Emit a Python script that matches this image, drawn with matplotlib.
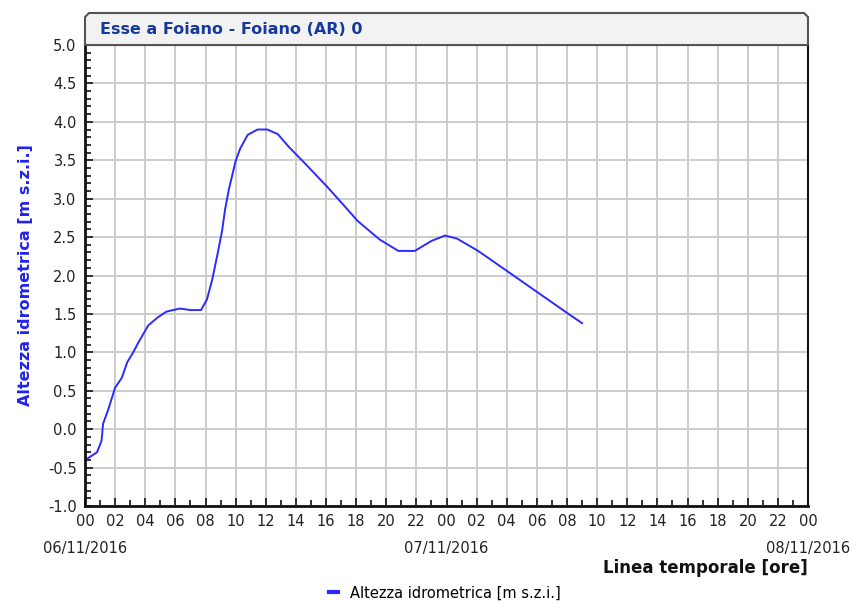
import matplotlib
matplotlib.use("Agg")
import matplotlib.pyplot as plt
import matplotlib.transforms as mtransforms
from matplotlib.patches import Polygon
from matplotlib.ticker import MultipleLocator, FuncFormatter

TITLE = "Esse a Foiano - Foiano (AR) 0"
Y_LABEL = "Altezza idrometrica [m s.z.i.]"
X_LABEL = "Linea temporale [ore]"
SERIES_NAME = "Altezza idrometrica [m s.z.i.]"

# hours since 06/11/2016 00:00
HOURS = [0.1, 0.8, 1.1, 1.2, 1.55, 2.0, 2.45, 2.8, 3.2, 3.55, 4.2, 4.8, 5.4,
         6.3, 7.0, 7.7, 8.1, 8.45, 8.8, 9.1, 9.3, 9.55, 10.0, 10.3, 10.8,
         11.45, 12.1, 12.8, 13.55, 14.55, 16.1, 17.2, 18.1, 19.55, 20.8,
         21.9, 23.0, 23.9, 24.7, 26.1, 28.3, 30.2, 32.1, 33.0]
LEVEL = [-0.39, -0.30, -0.15, 0.07, 0.26, 0.54, 0.67, 0.87, 1.00, 1.13, 1.35,
         1.45, 1.53, 1.57, 1.55, 1.55, 1.69, 1.95, 2.28, 2.58, 2.86, 3.12,
         3.49, 3.65, 3.83, 3.90, 3.90, 3.84, 3.67, 3.47, 3.15, 2.91, 2.71,
         2.47, 2.32, 2.32, 2.45, 2.52, 2.48, 2.32, 2.02, 1.76, 1.50, 1.38]

DATE_HOURS = [0, 24, 48]
DATE_LABELS = ["06/11/2016", "07/11/2016", "08/11/2016"]

TICK_FONT = ["DejaVu Sans"]
W, H = 855, 603


def fx(px):
    return px / W


def fy(py):
    return 1 - py / H


fig = plt.figure(figsize=(8.55, 6.03), dpi=100)
ax = fig.add_axes([fx(85), fy(506), fx(808) - fx(85), fy(45) - fy(506)])

ax.plot(HOURS, LEVEL, color="#2b2bff", lw=1.4, label=SERIES_NAME)

ax.set_xlim(0, 48)
ax.set_ylim(-1.0, 5.0)
ax.xaxis.set_major_locator(MultipleLocator(2))
ax.xaxis.set_minor_locator(MultipleLocator(1))
ax.yaxis.set_major_locator(MultipleLocator(0.5))
ax.yaxis.set_minor_locator(MultipleLocator(0.1))
ax.xaxis.set_major_formatter(FuncFormatter(lambda v, p: f"{int(round(v)) % 24:02d}"))
ax.yaxis.set_major_formatter(FuncFormatter(lambda v, p: f"{v:.1f}"))

ax.grid(True, which="major", color="#cccccc", lw=1.4)
ax.set_axisbelow(True)
ax.tick_params(which="both", direction="in", colors="#222222", width=1.3,
               top=False, right=False)
ax.tick_params(which="major", length=6, pad=6)
ax.tick_params(which="minor", length=4)
for lab in ax.get_xticklabels() + ax.get_yticklabels():
    lab.set_family(TICK_FONT)
    lab.set_fontsize(10.5)
    lab.set_color("#222222")

for side in ["left", "bottom", "right", "top"]:
    ax.spines[side].set_color("#111111")
    ax.spines[side].set_linewidth(1.5)
ax.spines["left"].set_linewidth(2)
ax.spines["bottom"].set_linewidth(2)

ax.set_ylabel(Y_LABEL, color="#2222ee", fontweight="bold", fontsize=11.5,
              labelpad=11)

# date labels under the midnight ticks
trans = mtransforms.blended_transform_factory(ax.transData, fig.transFigure)
for h, d in zip(DATE_HOURS, DATE_LABELS):
    ax.text(h, fy(548), d, transform=trans, ha="center", va="center",
            family=TICK_FONT, fontsize=10.5, color="#222222", clip_on=False)

fig.text(fx(808), fy(568), X_LABEL, ha="right", va="center",
         family=TICK_FONT, fontsize=12, fontweight="bold", color="#111111")

# title box
box = [(85, 45), (85, 17), (89, 13), (804, 13), (808, 17), (808, 45)]
fig.patches.append(Polygon([(fx(x), fy(y)) for x, y in box], closed=True,
                           transform=fig.transFigure, facecolor="#f2f2f2",
                           edgecolor="#555555", lw=1.5))
fig.text(fx(100), fy(29), TITLE, ha="left", va="center", fontsize=11.5,
         fontweight="bold", color="#17399b")

fig.legend(loc="center", bbox_to_anchor=(fx(445), fy(593)), frameon=False,
           handlelength=0.6, handletextpad=0.8, prop={"family": TICK_FONT, "size": 10.5})
for line in fig.legends[0].get_lines():
    line.set_linewidth(3)

fig.savefig("out.png", dpi=100)
